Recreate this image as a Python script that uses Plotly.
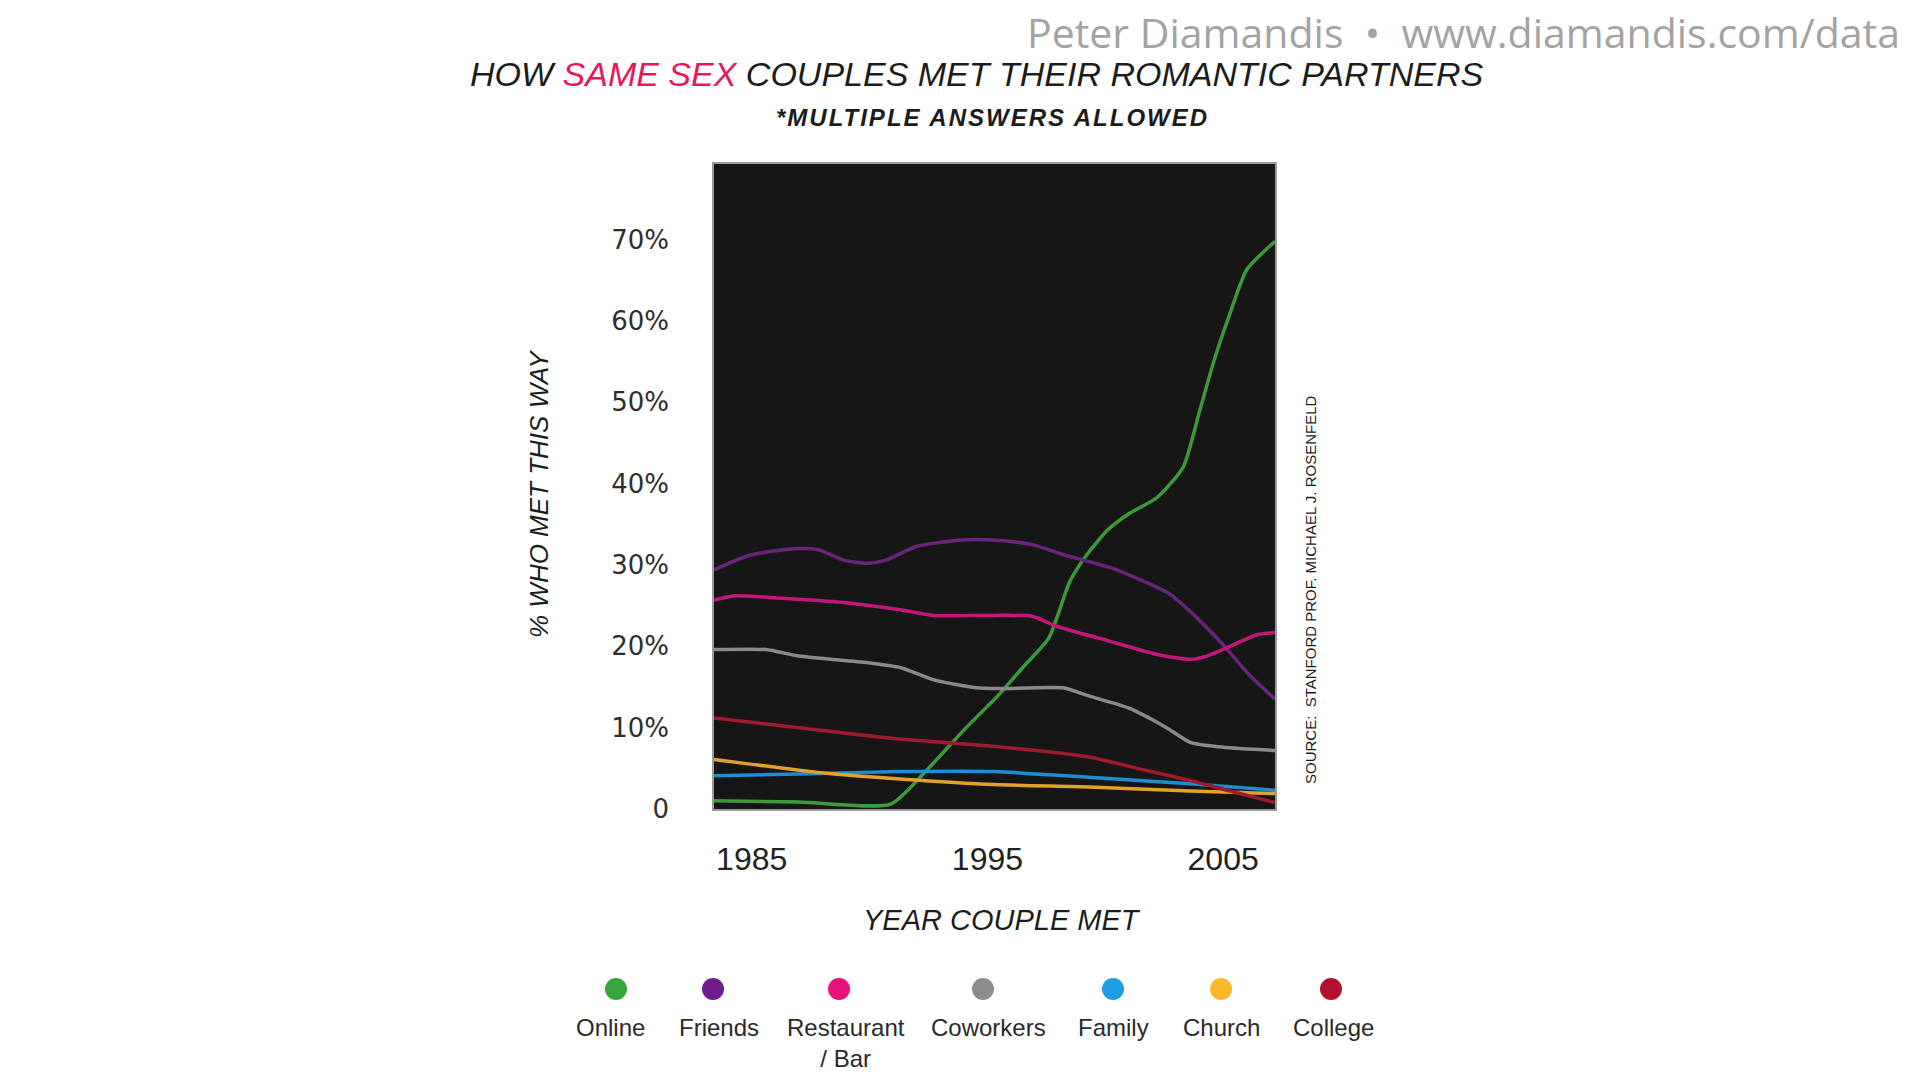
import plotly.graph_objects as go

# series (year, % who met this way)
online_years = [1983.4, 1987.0, 1990.9, 1992.4, 1994.1, 1995.5, 1996.5, 1997.6, 1998.5, 1999.2,
                2000.1, 2001.0, 2002.2, 2003.3, 2004.0, 2004.6, 2005.3, 2006.0, 2007.2]
online_vals = [1.0, 0.85, 0.6, 4.7, 10.0, 14.1, 17.4, 21.0, 28.0, 31.2,
               34.3, 36.3, 38.3, 42.0, 48.9, 55.0, 61.0, 66.3, 69.8]

friends_years = [1983.4, 1984.9, 1986.8, 1987.8, 1988.9, 1989.9, 1990.7, 1992.0, 1994.1, 1995.5,
                 1996.9, 1998.3, 2000.4, 2002.7, 2003.6, 2005.0, 2006.1, 2007.2]
friends_vals = [29.4, 31.2, 32.0, 31.9, 30.6, 30.2, 30.6, 32.3, 33.1, 33.0,
                32.5, 31.2, 29.5, 26.5, 24.3, 20.2, 16.5, 13.5]

bar_years = [1983.4, 1984.2, 1986.3, 1989.2, 1991.3, 1992.7, 1995.1, 1996.9, 1997.9, 2000.1,
             2002.2, 2003.6, 2004.3, 2005.3, 2006.4, 2007.2]
bar_vals = [25.7, 26.2, 25.9, 25.3, 24.5, 23.8, 23.8, 23.7, 22.5, 20.7,
            19.0, 18.4, 18.8, 20.0, 21.4, 21.7]

coworkers_years = [1983.4, 1985.6, 1987.0, 1989.9, 1991.3, 1992.7, 1994.5, 1995.5, 1998.2, 1999.3,
                   2001.0, 2002.6, 2003.6, 2005.0, 2007.2]
coworkers_vals = [19.6, 19.6, 18.8, 18.0, 17.4, 15.9, 14.9, 14.8, 14.9, 13.9,
                  12.4, 10.0, 8.2, 7.6, 7.2]

family_years = [1983.4, 1987.0, 1991.3, 1995.3, 1999.3, 2003.6, 2007.2]
family_vals = [4.1, 4.3, 4.6, 4.6, 3.9, 3.1, 2.3]

church_years = [1983.4, 1987.8, 1991.3, 1995.3, 1999.3, 2003.6, 2007.2]
church_vals = [6.1, 4.5, 3.7, 3.0, 2.7, 2.2, 1.9]

college_years = [1983.4, 1987.0, 1991.3, 1995.3, 1999.3, 2001.5, 2003.6, 2005.7, 2007.2]
college_vals = [11.2, 10.0, 8.6, 7.7, 6.4, 4.9, 3.5, 1.9, 0.8]

y_ticks = [0, 10, 20, 30, 40, 50, 60, 70]
y_tick_labels = ["0", "10%", "20%", "30%", "40%", "50%", "60%", "70%"]
x_ticks = [1985, 1995, 2005]

series = [
    ("Online", online_years, online_vals, "#3c9a3c", "#36a63c"),
    ("Friends", friends_years, friends_vals, "#69237a", "#6e1d8a"),
    ("Restaurant<br>/ Bar", bar_years, bar_vals, "#c2167a", "#e8127c"),
    ("Coworkers", coworkers_years, coworkers_vals, "#8a8a8a", "#8d8d8d"),
    ("Family", family_years, family_vals, "#1b8dd0", "#1e9de6"),
    ("Church", church_years, church_vals, "#e3a02a", "#fbb82a"),
    ("College", college_years, college_vals, "#9e1a2c", "#b0122d"),
]

# page has an 8px body margin all round, keep the figure inside the window
OFF = 8
W, H = 1920 - 2 * OFF, 1080 - 2 * OFF
# plot box in page pixels, used to place the free text around it
L, R, T, B = 714, 1275, 164, 809


def px(x):
    return (x - L) / (R - L)


def py(y):
    return (B - y) / (B - T)


# no condensed face installed, so sizes are tuned to the reference text widths
SANS = "Liberation Sans Narrow, Arial Narrow, Liberation Sans, Arial, sans-serif"


def note(text, x, y, size, family=SANS, color="#1c1c1c", style="normal", **kw):
    return dict(text=text, x=px(x), y=py(y), xref="paper", yref="paper", showarrow=False,
                xanchor=kw.pop("xanchor", "center"), yanchor=kw.pop("yanchor", "middle"),
                font=dict(family=family, size=size, color=color, style=style), **kw)


fig = go.Figure()
for name, xs, ys, line_col, _ in series:
    fig.add_trace(go.Scatter(
        x=xs, y=ys, mode="lines", name=name,
        line=dict(color=line_col, width=3.5, shape="spline", smoothing=0.6),
        showlegend=False,
    ))

annotations = [
    note("Peter Diamandis  \u2022  www.diamandis.com/data", 1902, 32, 41,
         family="Open Sans, sans-serif", color="#a3a3a3", xanchor="right"),
    note("HOW <span style='color:#e8175d'>SAME SEX</span> COUPLES MET THEIR ROMANTIC PARTNERS",
         977, 74, 34, style="italic"),
    note("<b><span style='letter-spacing:2px'>*MULTIPLE ANSWERS ALLOWED</span></b>",
         992, 118, 24, style="italic"),
    note("% WHO MET THIS WAY", 539, 494, 26, style="italic", textangle=-90),
    note("YEAR COUPLE MET", 1002, 920, 29, style="italic"),
    note("SOURCE:  STANFORD PROF. MICHAEL J. ROSENFELD", 1310, 590, 15, textangle=-90),
]

# hand-made legend: dot on top, label underneath
legend_dot_x = [616, 713, 839, 983, 1113, 1221, 1331]
legend_text_x = [610, 719, 846, 988, 1113, 1221, 1333]
shapes = []
for (name, _, _, _, dot_col), dx, tx in zip(series, legend_dot_x, legend_text_x):
    shapes.append(dict(type="circle", xref="paper", yref="paper",
                       x0=px(dx - 11), x1=px(dx + 11), y0=py(978), y1=py(1000),
                       fillcolor=dot_col, line=dict(width=0)))
    annotations.append(note(name, tx, 1012, 24, color="#2a2a2a", yanchor="top", align="center"))

fig.update_layout(
    width=W, height=H,
    margin=dict(l=L - OFF, r=(1920 - OFF) - R, t=T - OFF, b=(1080 - OFF) - B, pad=0),
    paper_bgcolor="white",
    plot_bgcolor="#161616",
    annotations=annotations,
    shapes=shapes,
)
fig.update_xaxes(range=[1983.4, 2007.2], tickvals=x_ticks, showgrid=False, zeroline=False,
                 showline=True, mirror=True, linecolor="#9a9a9a", linewidth=1.5,
                 ticks="", ticklabelstandoff=21,
                 tickfont=dict(family=SANS, size=32, color="#222222"))
fig.update_yaxes(range=[0, 79.3], tickvals=y_ticks, ticktext=y_tick_labels, showgrid=False,
                 zeroline=False, showline=True, mirror=True, linecolor="#9a9a9a", linewidth=1.5,
                 ticks="", ticklabelstandoff=38,
                 tickfont=dict(family="DejaVu Sans, sans-serif", size=26, color="#2e2e2e"))

fig.write_html("out.html")
